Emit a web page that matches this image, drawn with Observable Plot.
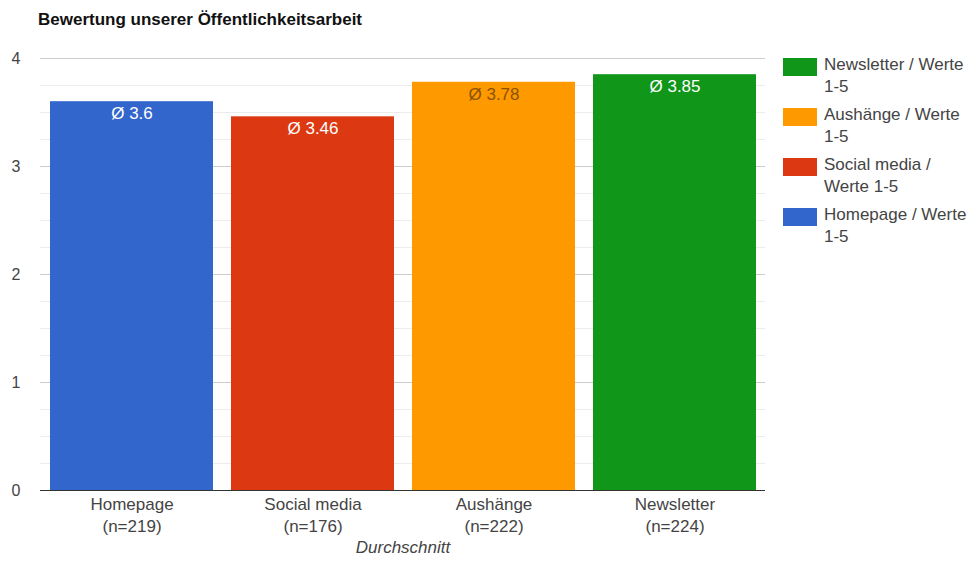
<!DOCTYPE html>
<html>
<head>
<meta charset="utf-8">
<script src="https://cdn.jsdelivr.net/npm/d3@7"></script>
<script src="https://cdn.jsdelivr.net/npm/@observablehq/plot@0.6"></script>
<style>
  body { margin: 0; background: #fff; font-family: "Liberation Sans", Arial, sans-serif; }
  #wrap { position: relative; width: 976px; height: 574px; }
  #title { position: absolute; left: 38px; top: 10px; font-size: 17px; font-weight: bold; color: #111; }
  #legend { position: absolute; left: 783px; top: 54px; width: 193px; }
  .item { display: flex; align-items: flex-start; margin-bottom: 6px; }
  .sw { width: 34px; height: 18px; flex: none; margin-right: 7px; margin-top: 4px; }
  .lab { font-size: 17px; color: #444; line-height: 22px; }
  #chart { position: absolute; left: 0; top: 0; }
</style>
</head>
<body>
<div id="wrap">
  <div id="chart"></div>
  <div id="title">Bewertung unserer Öffentlichkeitsarbeit</div>
  <div id="legend"></div>
</div>
<script>
const categories = ["Homepage", "Social media", "Aushänge", "Newsletter"];
const counts = [219, 176, 222, 224];
const values = [3.6, 3.46, 3.78, 3.85];
const colors = ["#3366cc", "#dc3912", "#ff9900", "#109618"];
const labelColors = ["#ffffff", "#ffffff", "#8a5200", "#ffffff"];
const legendLines = [["Newsletter / Werte", "1-5"], ["Aushänge / Werte", "1-5"], ["Social media /", "Werte 1-5"], ["Homepage / Werte", "1-5"]];
const legendColors = ["#109618", "#ff9900", "#dc3912", "#3366cc"];
const yTicks = [0, 1, 2, 3, 4];
const yMinor = [0.25, 0.5, 0.75, 1.25, 1.5, 1.75, 2.25, 2.5, 2.75, 3.25, 3.5, 3.75];
const axisLabel = "Durchschnitt";

const data = categories.map((c, i) => ({
  cat: c, n: counts[i], value: values[i], color: colors[i], lc: labelColors[i]
}));

const plot = Plot.plot({
  width: 976,
  height: 574,
  marginTop: 58,
  marginBottom: 84,
  marginLeft: 40,
  marginRight: 211,
  style: { fontFamily: "Liberation Sans, Arial, sans-serif", fontSize: "17px", color: "#444", background: "transparent" },
  x: { domain: categories, paddingInner: 0.1, paddingOuter: 0.05, axis: null },
  y: { domain: [0, 4], axis: null },
  marks: [
    Plot.ruleY(yMinor, { stroke: "#ececec", strokeWidth: 1 }),
    Plot.ruleY(yTicks.filter(d => d > 0), { stroke: "#cccccc", strokeWidth: 1 }),
    Plot.axisY({ ticks: yTicks, tickSize: 0, tickPadding: 20, fontSize: 16, fill: "#444", label: null, tickFormat: d => String(d) }),
    Plot.barY(data, { x: "cat", y: "value", fill: "color" }),
    Plot.text(data, { x: "cat", y: "value", text: d => "Ø " + d.value, fill: "lc", dy: 12, fontSize: 17 }),
    Plot.ruleY([0], { stroke: "#333", strokeWidth: 1.2 }),
    Plot.text(data, { x: "cat", y: 0, text: d => d.cat + "\n(n=" + d.n + ")", lineAnchor: "top", dy: 4, lineHeight: 1.3, fontSize: 17, fill: "#444" }),
    Plot.text([axisLabel], { frameAnchor: "bottom", text: d => d, dy: 62, fontSize: 17, fontStyle: "italic", fill: "#444" })
  ]
});
document.getElementById("chart").appendChild(plot);

const legend = document.getElementById("legend");
legendLines.forEach((lines, i) => {
  const item = document.createElement("div");
  item.className = "item";
  const sw = document.createElement("div");
  sw.className = "sw";
  sw.style.background = legendColors[i];
  const lab = document.createElement("div");
  lab.className = "lab";
  lines.forEach((t, j) => {
    if (j) lab.appendChild(document.createElement("br"));
    lab.appendChild(document.createTextNode(t));
  });
  item.appendChild(sw);
  item.appendChild(lab);
  legend.appendChild(item);
});
</script>
</body>
</html>
